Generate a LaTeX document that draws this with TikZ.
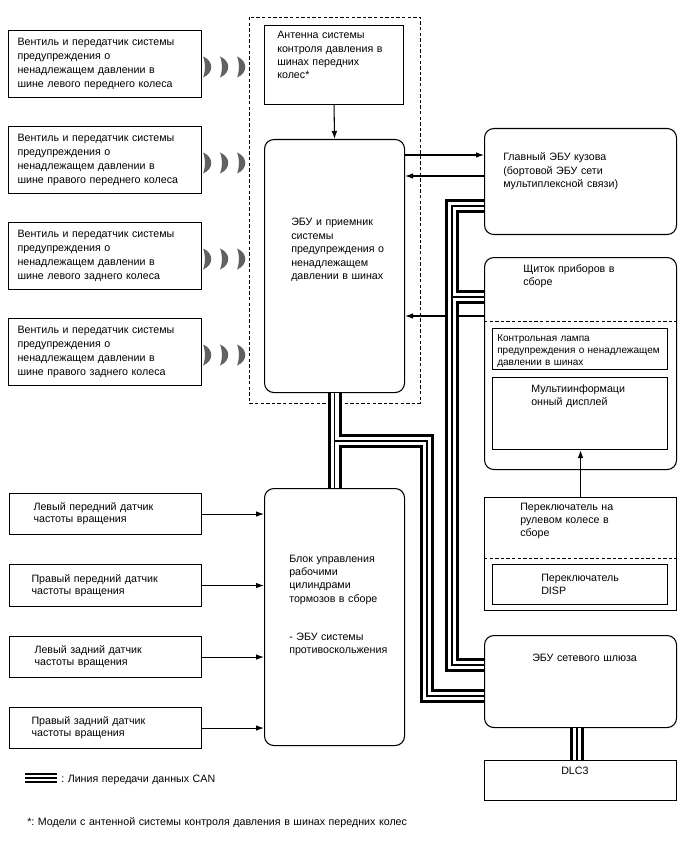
\documentclass[tikz,border=0pt]{standalone}
\usepackage{fontspec}
\setmainfont{Liberation Sans}
\usetikzlibrary{arrows.meta}
\newcommand\crescent[2]{\fill[wavecol] (#1,#2-10.5) .. controls (#1+11,#2-6) and (#1+11,#2+6) .. (#1,#2+10.5) .. controls (#1+2.5,#2+5) and (#1+2.5,#2-5) .. (#1,#2-10.5);}
\begin{document}
\begin{tikzpicture}[x=0.75pt,y=-0.75pt,
  sbox/.style={draw, line width=0.8pt, inner sep=0pt, fill=white},
  rbox/.style={sbox, rounded corners=7pt},
  bx/.style 2 args={minimum width=#1*0.75pt, minimum height=#2*0.75pt, anchor=north west},
  txt/.style={anchor=base west, align=left, inner sep=0pt, text width=190pt, font=\fontsize{8}{10}\selectfont},
  inbox/.style={align=left, font=\fontsize{8}{10.5}\selectfont},
  con/.style={line width=0.8pt, -{Latex[length=6pt,width=4.2pt]}},
  dashline/.style={line width=0.65pt, dash pattern=on 2.6pt off 1.6pt},
  busA/.style={line width=10.5pt, black},
  busB/.style={line width=6pt, white},
  busC/.style={line width=1pt, black},
]
\colorlet{wavecol}{black!62}
\useasboundingbox (0,0) rectangle (688,852);

% dashed group frame
\draw[dashline] (249,17) rectangle (420,403);

% left transmitter boxes
\node[sbox, bx={193}{67}, inbox, text width=175*0.75pt, inner xsep=9*0.75pt] (v1) at (8,30) {Вентиль и передатчик системы\\предупреждения о\\ненадлежащем давлении в\\шине левого переднего колеса};
\node[sbox, bx={193}{67}, inbox, text width=175*0.75pt, inner xsep=9*0.75pt] (v2) at (8,126) {Вентиль и передатчик системы\\предупреждения о\\ненадлежащем давлении в\\шине правого переднего колеса};
\node[sbox, bx={193}{67}, inbox, text width=175*0.75pt, inner xsep=9*0.75pt] (v3) at (8,222) {Вентиль и передатчик системы\\предупреждения о\\ненадлежащем давлении в\\шине левого заднего колеса};
\node[sbox, bx={193}{67}, inbox, text width=175*0.75pt, inner xsep=9*0.75pt] (v4) at (8,318) {Вентиль и передатчик системы\\предупреждения о\\ненадлежащем давлении в\\шине правого заднего колеса};

% radio waves
\foreach \yy in {67,163,259,355}{
  \crescent{203}{\yy}\crescent{220}{\yy}\crescent{237}{\yy}
}

% antenna and TPMS ECU
\node[sbox, bx={139}{79}] (ant) at (264,25) {};
\node[txt] (antt) at (277,39) {Антенна системы\\контроля давления в\\шинах передних\\колес*};
\node[rbox, bx={140}{253}] (tpms) at (264,139) {};
\node[txt] (tpmst) at (291,226) {ЭБУ и приемник\\системы\\предупреждения о\\ненадлежащем\\давлении в шинах};

% main body ECU
\node[rbox, bx={192}{106}] (mb) at (484,128) {};
\node[txt] (mbt) at (503,161) {Главный ЭБУ кузова\\(бортовой ЭБУ сети\\мультиплексной связи)};

% instrument panel
\node[rbox, bx={192}{212}] (ip) at (484,257) {};
\draw[dashline] (ip.west |- 0,321) -- (ip.east |- 0,321);
\node[txt] (ipt) at (523,272) {Щиток приборов в\\сборе};
\node[sbox, bx={175}{41}] (lamp) at (492,328) {};
\node[txt, font=\fontsize{7.5}{9}\selectfont] (lampt) at (497,341) {Контрольная лампа\\предупреждения о ненадлежащем\\давлении в шинах};
\node[sbox, bx={175}{72}] (disp) at (492,377) {};
\node[txt] (dispt) at (531,392) {Мультиинформаци\\онный дисплей};

% steering switch
\node[sbox, bx={192}{113}] (sw) at (484,497) {};
\draw[dashline] (sw.west |- 0,558) -- (sw.east |- 0,558);
\node[txt] (swt) at (520,510) {Переключатель на\\рулевом колесе в\\сборе};
\node[sbox, bx={175}{40}] (dsw) at (492,564) {};
\node[txt] (dswt) at (541,581) {Переключатель\\DISP};

% gateway and DLC3
\node[rbox, bx={192}{92}] (gw) at (484,635) {};
\node[txt] (gwt) at (532,661) {ЭБУ сетевого шлюза};
\node[sbox, bx={192}{40}] (dlc) at (484,760) {};
\node[txt] (dlct) at (561,774) {DLC3};

% brake actuator
\node[rbox, bx={140}{257}] (brk) at (264,488) {};
\node[txt] (brkt) at (289,562) {Блок управления\\рабочими\\цилиндрами\\тормозов в сборе};
\node[txt] (brkt2) at (289,640) {- ЭБУ системы\\противоскольжения};

% speed sensors
\node[sbox, bx={192}{41}, align=left, font=\fontsize{8}{9}\selectfont, text width=144*0.75pt, inner xsep=24*0.75pt] (s1) at (9,493) {Левый передний датчик\\частоты вращения};
\node[sbox, bx={192}{42}, align=left, font=\fontsize{8}{9}\selectfont, text width=148*0.75pt, inner xsep=22*0.75pt] (s2) at (9,564) {Правый передний датчик\\частоты вращения};
\node[sbox, bx={192}{41}, align=left, font=\fontsize{8}{9}\selectfont, text width=142*0.75pt, inner xsep=25*0.75pt] (s3) at (9,636) {Левый задний датчик\\частоты вращения};
\node[sbox, bx={192}{41}, align=left, font=\fontsize{8}{9}\selectfont, text width=148*0.75pt, inner xsep=22*0.75pt] (s4) at (9,707) {Правый задний датчик\\частоты вращения};

% signal arrows
\draw[con] (ant.south) -- (tpms.north);
\draw[con] (tpms.east |- 0,155) -- (mb.west |- 0,155);
\draw[con] (mb.west |- 0,176) -- (tpms.east |- 0,176);
\draw[con] (ip.west |- 0,316) -- (tpms.east |- 0,316);
\draw[con] (sw.north) -- (sw.north |- disp.south);
\draw[con] (s1.east) -- (brk.west |- s1.east);
\draw[con] (s2.east) -- (brk.west |- s2.east);
\draw[con] (s3.east) -- (brk.west |- s3.east);
\draw[con] (s4.east) -- (brk.west |- s4.east);

% CAN bus
\coordinate (j1) at (334,441);
\coordinate (m1) at (484,206);
\coordinate (p1) at (484,297);
\coordinate (g1) at (484,665);
\coordinate (g2) at (484,696);
\coordinate (k1) at (452,297);
\foreach \st in {busA,busB,busC}{
  \draw[\st] (tpms.south) -- (brk.north);
  \draw[\st] (j1) -- (427,441) -- (427,696) -- (g2);
  \draw[\st] (m1) -- (452,206) -- (452,665) -- (g1);
  \draw[\st] (k1) -- (p1);
  \draw[\st] (gw.south -| 577,0) -- (dlc.north -| 577,0);
}

% legend
\coordinate (la) at (25,778);
\coordinate (lb) at (57,778);
\draw[line width=7.5pt] (la) -- (lb);
\draw[line width=4.2pt, white] (la) -- (lb);
\draw[line width=1.2pt] (la) -- (lb);
\node[txt] (legt) at (61,782) {:~Линия передачи данных CAN};
\node[txt, text width=400pt] (foot) at (27,825) {*:~Модели с антенной системы контроля давления в шинах передних колес};
\end{tikzpicture}
\end{document}
